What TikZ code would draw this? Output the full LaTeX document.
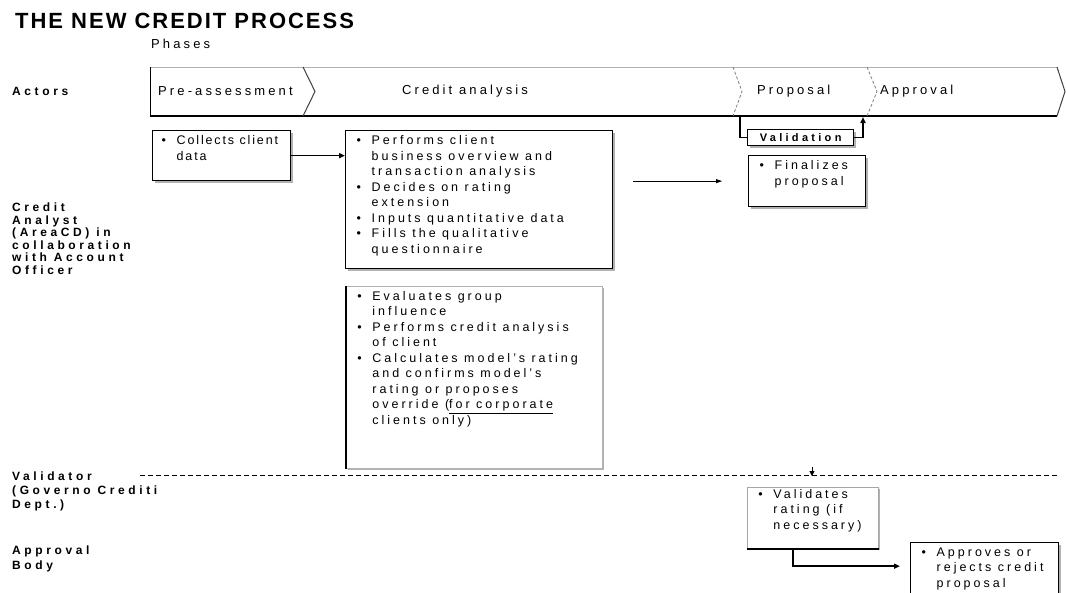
\documentclass[tikz,border=0pt]{standalone}
\usepackage{fontspec}
\setmainfont{Liberation Sans}[LetterSpace=24]
\newfontfamily\titlefont{Liberation Sans}[LetterSpace=9]
\newfontfamily\lblfont{Liberation Sans}[LetterSpace=30]
\usetikzlibrary{arrows.meta,shadows}

% bullet paragraph with hanging indent
\newcommand{\bpoint}{\par\noindent\hangindent=20pt\hangafter=1\makebox[20pt][l]{\hspace{5pt}\textbullet}}
% fixed size text block for the task boxes
\newcommand{\boxtxt}[3]{\parbox[t][#2][t]{#1}{\raggedright\fontsize{12.5}{15.5}\selectfont #3}}

\begin{document}
\begin{tikzpicture}[x=1pt, y=-1pt,
		stepbox/.style={draw=black, line width=1.3pt, fill=white, anchor=north west,
			inner xsep=6pt, inner ysep=5pt,
			drop shadow={shadow xshift=2pt, shadow yshift=-2pt, fill=gray!60, opacity=1}},
		actor/.style={anchor=north west, inner sep=0pt, align=left,
			font=\lblfont\bfseries\fontsize{12}{12.5}\selectfont},
		phase/.style={inner sep=0pt, font=\fontsize{13}{15}\selectfont},
		thickarrow/.style={line width=1.5pt, -{Triangle[length=6pt,width=5pt]}},
		thinarrow/.style={line width=0.8pt, -{Triangle[length=6pt,width=4pt]}}]
		\clip (0,0) rectangle (1066,592);
		\fill[white] (0,0) rectangle (1066,592);

		% Title and headers
		\node[anchor=base west, inner sep=0pt, font=\titlefont\bfseries\fontsize{22}{26}\selectfont] (title) at (15,28) {THE NEW CREDIT PROCESS};
		\node[phase, anchor=base west] (phases) at (151,48) {Phases};
		\node[actor, anchor=west] (actors) at (12,91) {Actors};

		% Phase bar
		\draw[gray!60, line width=0.8pt] (150,67) -- (1057,67);
		\draw[line width=1pt] (150,67) -- (150,116);
		\draw[line width=1.6pt] (150,116) -- (1057,116);
		\draw[darkgray, line width=1pt] (303,67) -- (315,91.5) -- (303,116);
		\draw[gray, densely dashed, line width=0.8pt] (733,67) -- (742,91.5) -- (733,116);
		\draw[gray, densely dashed, line width=0.8pt] (867,67) -- (877,91.5) -- (867,116);
		\draw[darkgray, line width=1pt] (1057,67) -- (1065,91.5) -- (1057,116);
		\node[phase, anchor=west] (pre) at (158,91) {Pre-assessment};
		\node[phase] (analysis) at (465,91) {Credit analysis};
		\node[phase, anchor=west] (proposal) at (757,91) {Proposal};
		\node[phase, anchor=west] (approval) at (880,91) {Approval};

		% Actors
		\node[actor] (analyst) at (12,203) {Credit\\Analyst\\(AreaCD) in\\collaboration\\with Account\\Officer};
		\node[actor, font=\lblfont\bfseries\fontsize{12}{14}\selectfont] (validator) at (12,472) {Validator\\(Governo Crediti\\Dept.)};
		\node[actor, font=\lblfont\bfseries\fontsize{12}{15}\selectfont] (body) at (12,546) {Approval\\Body};

		% Credit analyst tasks
		\node[stepbox, inner xsep=4pt] (collect) at (152,130) {\boxtxt{130pt}{40pt}{\addfontfeatures{LetterSpace=15}\bpoint \mbox{Collects client}\newline data}};
		\node[stepbox] (perform) at (345,130) {\boxtxt{255pt}{128pt}{%
			\bpoint Performs client\newline business overview and\newline transaction analysis
			\bpoint Decides on rating\newline extension
			\bpoint Inputs quantitative data
			\bpoint Fills the qualitative\newline questionnaire}};
		\node[stepbox, draw=gray!60, line width=0.8pt] (evaluate) at (346,286) {\boxtxt{244pt}{172pt}{%
			\bpoint Evaluates group\newline influence
			\bpoint Performs credit analysis\newline of client
			\bpoint Calculates model's rating\newline and confirms model's\newline rating or proposes\newline override (\underline{for corporate}\newline clients only)}};
		\draw[line width=1.5pt] (evaluate.north west) -- (evaluate.south west);

		% Proposal
		\node[stepbox, minimum width=106pt, minimum height=16pt, inner sep=0pt,
			font=\lblfont\bfseries\fontsize{11}{13}\selectfont] (validation) at (747,129) {Validation};
		\node[stepbox] (finalize) at (748,155) {\boxtxt{105pt}{41pt}{\bpoint Finalizes\newline proposal}};
		\coordinate (valin) at (740,116);
		\coordinate (valout) at (863,117);
		\draw[line width=1.3pt] (valin) |- (validation.west);
		\draw[thickarrow] (validation.east) -| (valout);

		% Validator and approval body
		\coordinate (laneL) at (140,475);
		\coordinate (laneR) at (1058,475);
		\draw[dash pattern=on 5pt off 3pt, line width=0.8pt] (laneL) -- (laneR);
		\coordinate (tickA) at (812,467);
		\coordinate (tickB) at (812,476);
		\draw[-{Triangle[length=5pt,width=5pt]}] (tickA) -- (tickB);
		\node[stepbox, draw=gray!70, line width=0.8pt, inner ysep=2pt] (validate) at (747,487) {\boxtxt{119pt}{57pt}{\bpoint Validates\newline rating (if\newline necessary)}};
		\draw[line width=1.5pt] (validate.south west) -- (validate.south east);
		\node[stepbox] (approve) at (910,542) {\boxtxt{136pt}{53pt}{\bpoint Approves or\newline rejects credit\newline proposal}};

		% Flow
		\draw[thickarrow] (collect.east) -- (perform.west |- collect.east);
		\draw[thinarrow] ([xshift=20pt]perform.east |- finalize.west) -- ([xshift=-26pt]finalize.west);
		\draw[thickarrow] ([xshift=-20pt]validate.south) |- ([xshift=-10pt,yshift=8pt]approve.west);
	\end{tikzpicture}
\end{document}
